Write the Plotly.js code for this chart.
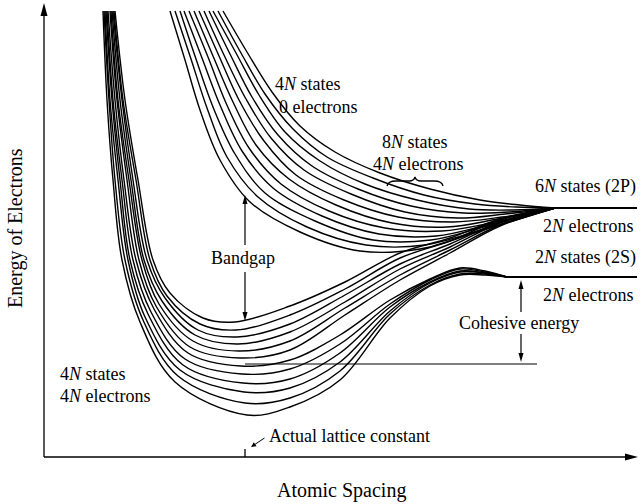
<!DOCTYPE html>
<html><head><meta charset="utf-8">
<script src="https://cdn.plot.ly/plotly-3.0.1.min.js"></script>
<style>html,body{margin:0;padding:0;background:#fff}#chart{width:644px;height:504px}</style>
</head><body><div id="chart"></div>
<script>
// Atomic spacing (x, arbitrary units) and electron energy (negative, arbitrary units)
const upperBandX = [
  [170,185,200,220,250,300,360,420,480,555],
  [175,191,207,227,258,307,366,425,484,555],
  [180,196,213,235,265,315,373,431,487,555],
  [184,202,220,242,273,322,379,436,491,555],
  [189,208,226,249,281,329,385,442,495,555],
  [194,213,233,256,289,336,392,447,498,555],
  [199,219,239,264,296,344,398,453,502,555],
  [204,224,246,271,304,351,405,458,505,555],
  [209,230,252,278,312,358,411,464,509,555],
  [213,236,259,285,320,365,417,469,513,555],
  [218,241,265,293,327,373,424,475,516,555],
  [223,247,272,300,335,380,430,480,520,555]
];
const upperBandE = [
  [-11,-60,-110,-160,-202,-232,-251,-249,-231,-208],
  [-11,-59,-108,-157,-197,-227,-245,-245,-229,-208],
  [-11,-59,-107,-154,-193,-221,-240,-240,-226,-208],
  [-11,-58,-105,-151,-188,-216,-234,-236,-224,-208],
  [-11,-57,-103,-148,-184,-211,-228,-231,-222,-208],
  [-11,-56,-102,-145,-179,-205,-223,-227,-219,-208],
  [-11,-56,-100,-141,-175,-200,-217,-222,-217,-208],
  [-11,-55,-99,-138,-170,-194,-212,-218,-214,-208],
  [-11,-54,-97,-135,-166,-189,-206,-213,-212,-208],
  [-11,-53,-95,-132,-161,-184,-200,-209,-210,-208],
  [-11,-53,-94,-129,-157,-178,-195,-204,-207,-208],
  [-11,-52,-92,-126,-152,-173,-189,-200,-205,-208]
];
const lowerBandX = [
  [115,125,138,153,170,203,235,290,345,400,450,500,555],
  [114,123,136,150,167,200,236,290,345,400,450,500,555],
  [113,122,133,147,165,198,237,290,345,400,450,500,555],
  [112,120,131,144,162,195,238,290,345,400,450,500,555],
  [111,118,129,142,159,193,239,290,345,400,450,500,555],
  [110,117,127,139,156,190,240,290,345,400,450,500,555],
  [108,115,124,136,154,188,241,290,340,390,430,460,485,507],
  [107,113,122,133,151,185,242,290,340,390,430,460,485,507],
  [106,112,120,130,148,183,243,290,340,390,430,460,485,507],
  [105,110,118,128,145,180,244,290,340,390,430,460,485,507],
  [104,109,115,125,143,178,245,290,340,390,430,460,485,507],
  [103,107,113,122,140,175,247,290,340,390,430,460,485,507]
];
const lowerBandE = [
  [-11,-100,-180,-260,-293,-318,-322,-306,-282,-253,-238,-219,-208],
  [-11,-100,-180,-260,-296,-324,-330,-315,-289,-258,-241,-220,-208],
  [-11,-100,-180,-260,-298,-330,-337,-324,-295,-264,-244,-222,-208],
  [-11,-100,-180,-260,-301,-335,-344,-332,-302,-269,-247,-223,-208],
  [-11,-100,-180,-260,-304,-341,-351,-341,-308,-275,-250,-225,-208],
  [-11,-100,-180,-260,-306,-347,-358,-350,-315,-280,-253,-226,-208],
  [-11,-100,-180,-260,-309,-353,-366,-360,-335,-300,-279,-268,-271,-277],
  [-11,-100,-180,-260,-312,-359,-374,-369,-344,-304,-280,-269,-272,-277],
  [-11,-100,-180,-260,-314,-365,-383,-379,-353,-307,-282,-271,-273,-277],
  [-11,-100,-180,-260,-317,-370,-392,-388,-362,-311,-283,-272,-273,-277],
  [-11,-100,-180,-260,-320,-376,-403,-398,-371,-314,-285,-274,-274,-277],
  [-11,-100,-180,-260,-322,-382,-415,-407,-380,-318,-286,-275,-275,-277]
];
const level2PX = [552, 637], level2PE = [-208, -208];
const level2SX = [505, 637], level2SE = [-277, -277];
const cohesiveX = [245, 537], cohesiveE = [-364, -364];
const latticeConstant = 245;

const curveStyle = {color:'#000', width:1.4, shape:'spline', smoothing:1};
const traces = [];
upperBandX.forEach((xs,i)=>traces.push({type:'scatter',mode:'lines',x:xs,y:upperBandE[i],line:curveStyle,hoverinfo:'skip'}));
lowerBandX.forEach((xs,i)=>traces.push({type:'scatter',mode:'lines',x:xs,y:lowerBandE[i],line:curveStyle,hoverinfo:'skip'}));
traces.push({type:'scatter',mode:'lines',x:level2PX,y:level2PE,line:{color:'#000',width:2.2}});
traces.push({type:'scatter',mode:'lines',x:level2SX,y:level2SE,line:{color:'#000',width:2.2}});
traces.push({type:'scatter',mode:'lines',x:cohesiveX,y:cohesiveE,line:{color:'#000',width:1}});

const F = 'Liberation Serif, "Times New Roman", serif';
function txt(text,x,y,anchor,size,extra){
  return Object.assign({text:text,x:x,y:y,xref:'x',yref:'y',xanchor:anchor||'center',yanchor:'middle',
    showarrow:false,font:{family:F,size:size||18,color:'#000'}},extra||{});
}
const annotations = [
  txt('4<i>N</i> states',273,-84,'left'),
  txt('0 electrons',277,-107,'left'),
  txt('8<i>N</i> states',415,-142),
  txt('4<i>N</i> electrons',418,-164),
  txt('6<i>N</i> states (2P)',638,-186,'right'),
  txt('2<i>N</i> electrons',635,-226,'right'),
  txt('2<i>N</i> states (2S)',638,-257,'right'),
  txt('2<i>N</i> electrons',635,-295,'right'),
  txt('Cohesive energy',519,-323),
  txt('Bandgap',243,-258),
  txt('4<i>N</i> states',58,-374,'left'),
  txt('4<i>N</i> electrons',58,-396,'left'),
  txt('Actual lattice constant',267,-436,'left'),
  txt('Atomic Spacing',341,-490,'center',20),
  txt('Energy of Electrons',15,-228,'center',20,{textangle:-90}),
  {x:251,y:-447,ax:266,ay:-437,axref:'x',ayref:'y',xref:'x',yref:'y',text:'',showarrow:true,
   arrowhead:2,arrowsize:1,arrowwidth:1,arrowcolor:'#000'}
];
const head = p => ({type:'path',path:p,xref:'x',yref:'y',fillcolor:'#000',line:{width:0}});
const seg = (x0,y0,x1,y1,w) => ({type:'line',x0:x0,y0:y0,x1:x1,y1:y1,xref:'x',yref:'y',line:{color:'#000',width:w||1.3}});
const shapes = [
  seg(44,-457,44,-12), head('M 40.5,-16 L 44,-3 L 47.5,-16 Z'),
  seg(44,-457,628,-457), head('M 625,-453.5 L 638,-457 L 625,-460.5 Z'),
  seg(latticeConstant,-457,latticeConstant,-449),
  seg(245,-245,245,-202,1.2), head('M 242.5,-204 L 245,-195 L 247.5,-204 Z'),
  seg(245,-272,245,-314,1.2), head('M 242.5,-312 L 245,-321 L 247.5,-312 Z'),
  seg(521,-312,521,-287,1.2), head('M 518.5,-289 L 521,-280 L 523.5,-289 Z'),
  seg(521,-334,521,-355,1.2), head('M 518.5,-353 L 521,-362 L 523.5,-353 Z'),
  {type:'path',xref:'x',yref:'y',line:{color:'#000',width:1.3},
   path:'M 387,-186 Q 388,-181 396,-181 L 409,-181 Q 414,-181 415,-177 Q 416,-181 421,-181 L 434,-181 Q 442,-181 443,-186'}
];
const layout = {
  width:644, height:504, margin:{l:0,r:0,t:0,b:0},
  paper_bgcolor:'#fff', plot_bgcolor:'#fff', showlegend:false, hovermode:false,
  xaxis:{range:[0,644],visible:false,fixedrange:true},
  yaxis:{range:[-504,0],visible:false,fixedrange:true},
  annotations:annotations, shapes:shapes
};
Plotly.newPlot('chart', traces, layout, {staticPlot:true, displayModeBar:false});
</script></body></html>
